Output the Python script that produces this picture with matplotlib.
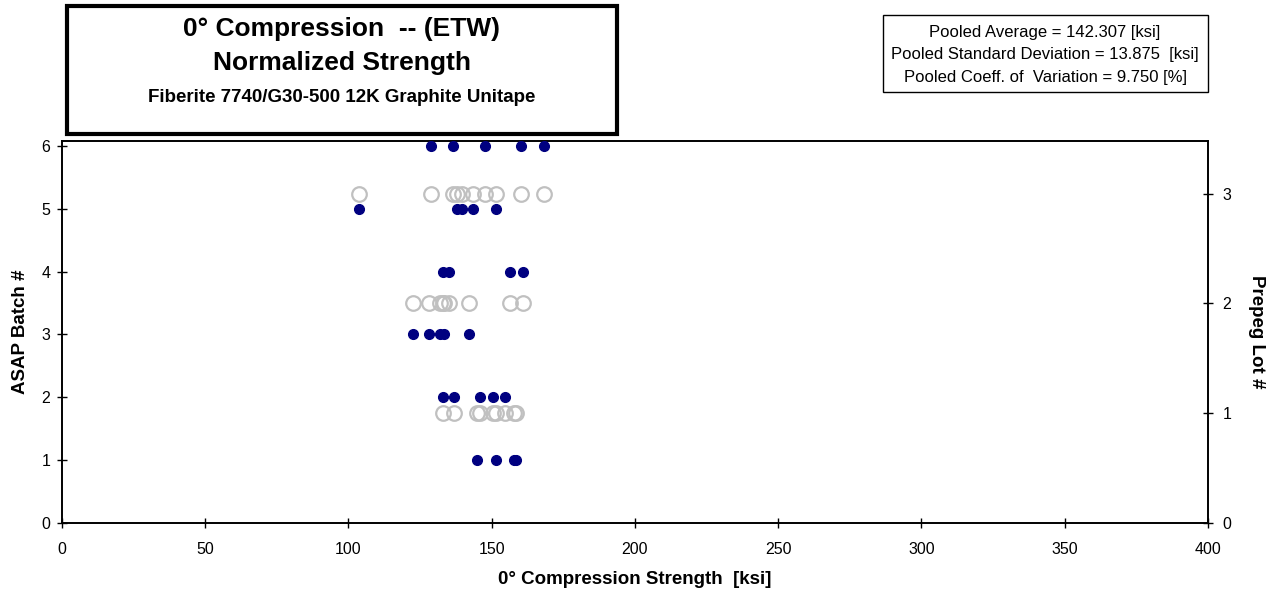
import numpy as np
import matplotlib.pyplot as plt
from matplotlib.patches import Rectangle

plt.rcParams['font.family'] = ['Liberation Sans', 'DejaVu Sans']

# normalized strength per ASAP batch [ksi]
batch1 = [144.7, 151.5, 157.9, 158.6]
batch2 = [133.1, 136.9, 145.9, 150.3, 154.7]
batch3 = [122.4, 128.0, 131.9, 133.3, 141.9]
batch4 = [132.9, 135.2, 156.5, 160.8]
batch5 = [103.6, 138.0, 139.6, 143.6, 151.5]
batch6 = [128.7, 136.4, 147.5, 160.3, 168.1]
batches = [batch1, batch2, batch3, batch4, batch5, batch6]

# prepeg lot -> batches it covers
lot_batches = {1: [1, 2], 2: [3, 4], 3: [5, 6]}

stats_text = ("Pooled Average = 142.307 [ksi]\n"
              "Pooled Standard Deviation = 13.875  [ksi]\n"
              "Pooled Coeff. of  Variation = 9.750 [%]")

fig = plt.figure(figsize=(12.78, 5.97), dpi=100)
ax = fig.add_axes([0.0485, 0.124, 0.8967, 0.640])
ax2 = ax.twinx()

navy = '#000080'
grey = '#c0c0c0'

# lot values on the right axis (open circles)
for lot, bnums in lot_batches.items():
    vals = [v for b in bnums for v in batches[b - 1]]
    ax2.plot(vals, np.full(len(vals), lot), 'o', ms=10.5, mfc='none',
             mec=grey, mew=1.6, zorder=2)

# batch values on the left axis (filled dots)
for i, vals in enumerate(batches, start=1):
    ax.plot(vals, np.full(len(vals), i), 'o', ms=7, color=navy, zorder=3)

ax.set_zorder(ax2.get_zorder() + 1)
ax.patch.set_visible(False)

ax.set_xlim(0, 400)
ax.set_ylim(0, 6.08)
ax2.set_ylim(0, 3.48)
ax.set_xticks(np.arange(0, 401, 50))
ax.set_yticks(range(0, 7))
ax2.set_yticks(range(0, 4))

for a in (ax, ax2):
    a.tick_params(direction='inout', length=7, width=1, color='black',
                  labelsize=11.5)
    for s in a.spines.values():
        s.set_linewidth(1.2)
ax.tick_params(axis='x', pad=10)
ax.tick_params(axis='y', pad=5)
ax2.tick_params(axis='y', pad=7)

ax.set_xlabel('0° Compression Strength  [ksi]', fontsize=13.5,
              fontweight='bold', labelpad=10)
ax.set_ylabel('ASAP Batch #', fontsize=13.5, fontweight='bold', labelpad=9)
ax2.set_ylabel('Prepeg Lot #', fontsize=13.5, fontweight='bold',
               rotation=270, labelpad=24)

# title box
fig.patches.append(Rectangle((67 / 1278, 1 - 134 / 597), 550 / 1278,
                             128 / 597, transform=fig.transFigure,
                             facecolor='white', edgecolor='black',
                             linewidth=3, zorder=10))
tx = 342 / 1278
fig.text(tx, 1 - 29 / 597, '0° Compression  -- (ETW)', ha='center',
         va='center', fontsize=19, fontweight='bold', zorder=11)
fig.text(tx, 1 - 63 / 597, 'Normalized Strength', ha='center',
         va='center', fontsize=19, fontweight='bold', zorder=11)
fig.text(tx, 1 - 98 / 597, 'Fiberite 7740/G30-500 12K Graphite Unitape',
         ha='center', va='center', fontsize=13.5, fontweight='bold',
         zorder=11)

# pooled statistics box
fig.patches.append(Rectangle((883 / 1278, 1 - 92 / 597), 325 / 1278,
                             77 / 597, transform=fig.transFigure,
                             facecolor='white', edgecolor='black',
                             linewidth=1, zorder=10))
fig.text(1045 / 1278, 1 - 55 / 597, stats_text, ha='center', va='center',
         fontsize=12, linespacing=1.65, zorder=11)

fig.savefig('out.png', dpi=100)
